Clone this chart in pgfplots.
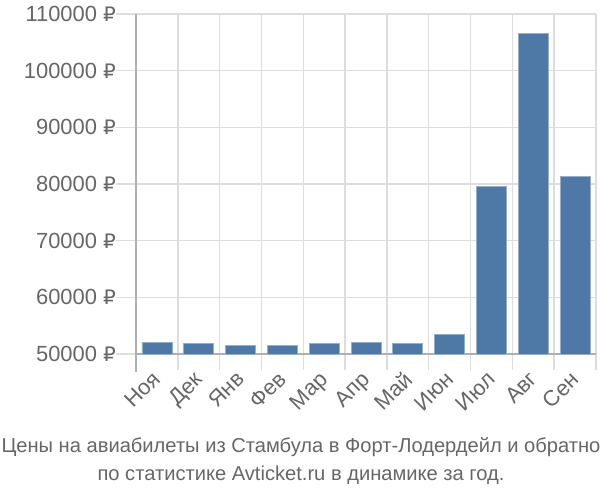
\documentclass[border=0pt]{standalone}
\usepackage{fontspec}
\setmainfont{Liberation Sans}
\newfontfamily\rubfont{DejaVu Sans}
\usepackage{pgfplots}
\pgfplotsset{compat=1.18}
\definecolor{barc}{RGB}{78,121,167}
\definecolor{gridc}{RGB}{221,221,221}
\definecolor{axc}{RGB}{176,176,176}
\definecolor{txt}{RGB}{102,102,102}
\begin{document}
\begin{tikzpicture}
\useasboundingbox (-136bp,-146bp) rectangle (464bp,354bp);
\begin{axis}[
  at={(0,0)}, anchor=south west,
  scale only axis, width=460bp, height=340bp,
  xmin=-0.5, xmax=10.5, ymin=50000, ymax=110000,
  xtick={0,...,10},
  xticklabels={Ноя,Дек,Янв,Фев,Мар,Апр,Май,Июн,Июл,Авг,Сен},
  minor xtick={-0.5,0.5,...,10.5},
  xminorgrids, major x tick style={draw=none},
  minor x tick style={draw=gridc, line width=1.5bp},
  minor tick length=16bp,
  tick align=outside,
  ytick={50000,60000,...,110000},
  scaled y ticks=false,
  ymajorgrids,
  major tick length=20bp,
  y tick style={draw=gridc, line width=1.2bp},
  grid style={draw=gridc, line width=1.5bp},
  minor grid style={draw=gridc, line width=1.5bp},
  axis x line*=bottom, axis y line*=left,
  axis line style={draw=axc, line width=1.5bp},
  x axis line style={-}, y axis line style={-},
  /pgf/number format/assume math mode=true,
  /pgf/number format/1000 sep={},
  yticklabel={\pgfmathprintnumber[fixed,precision=0]{\tick}~{\rubfont\fontsize{20}{22}\selectfont ₽}},
  yticklabel style={font=\fontsize{22}{24}\selectfont, text=txt, inner sep=1bp, xshift=1bp},
  xticklabel style={font=\fontsize{22}{24}\selectfont, text=txt, rotate=45, anchor=north east, inner sep=1bp, yshift=8bp, xshift=0bp},
  clip=false,
]
\addplot[ybar, bar width=30bp, fill=barc, draw=barc!60!white, line width=0.8bp] coordinates {
(0,52000) (1,51800) (2,51500) (3,51500) (4,51800) (5,52100) (6,51900) (7,53500) (8,79500) (9,106600) (10,81400)
};
\draw[axc, line width=1.5bp] (rel axis cs:0,0) -- ([yshift=-18bp]rel axis cs:0,0);
\end{axis}
\node[text=txt, font=\fontsize{20.2}{23}\selectfont] at (165bp,-93bp) {Цены на авиабилеты из Стамбула в Форт-Лодердейл и обратно};
\node[text=txt, font=\fontsize{20.2}{23}\selectfont] at (165bp,-121bp) {по статистике Avticket.ru в динамике за год.};
\end{tikzpicture}
\end{document}
